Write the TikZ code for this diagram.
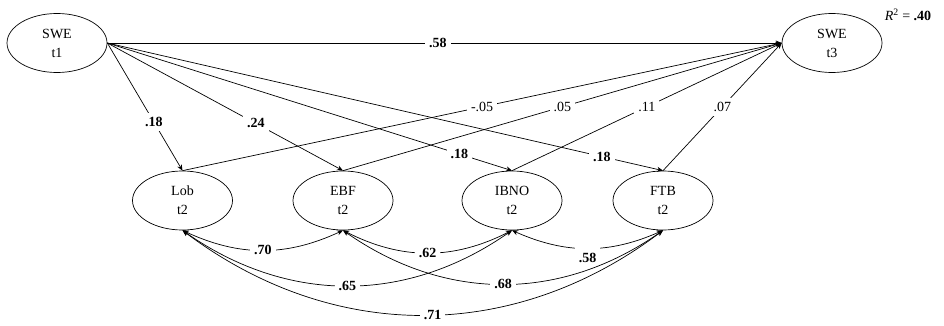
\documentclass[tikz,border=0pt]{standalone}
\usepackage{fontspec}
\setmainfont{Liberation Serif}
\usetikzlibrary{shapes.geometric,arrows.meta}

\begin{document}
\begin{tikzpicture}[x=1pt, y=1pt,
        latent/.style={draw, ellipse, line width=0.7pt, minimum width=100pt,
                       minimum height=59pt, inner sep=0pt, align=center,
                       font=\fontsize{14}{19}\selectfont},
        regpath/.style={line width=0.7pt, -{Stealth[length=6pt, width=5pt]}},
        covpath/.style={line width=0.7pt,
                        {Stealth[length=6pt, width=5pt]}-{Stealth[length=6pt, width=5pt]}},
        coef/.style={fill=white, inner sep=4pt, font=\fontsize{14}{16}\selectfont\bfseries},
        coefplain/.style={fill=white, inner sep=4pt, font=\fontsize{14}{16}\selectfont}]

    \useasboundingbox (0, 0) rectangle (944, 325);

    % latent variables
    \node[latent] (swe1) at (57, 282) {SWE\\t1};
    \node[latent] (swe3) at (832, 282) {SWE\\t3};
    \node[latent] (lob)  at (182.5, 124.5) {Lob\\t2};
    \node[latent] (ebf)  at (343, 124.5) {EBF\\t2};
    \node[latent] (ibno) at (512, 124.5) {IBNO\\t2};
    \node[latent] (ftb)  at (663, 124.5) {FTB\\t2};

    \node[font=\fontsize{14}{16}\selectfont] (rsq) at (908, 310)
        {\textit{R}\textsuperscript{2} = \textbf{.40}};

    % t1 -> t2 and t1 -> t3
    \draw[regpath] (swe1.east) -- node[coef, pos=0.49] {.58} (swe3.west);
    \draw[regpath] (swe1.east) -- node[coef, pos=0.62] {.18} (lob.north);
    \draw[regpath] (swe1.east) -- node[coef, pos=0.63] {.24} (ebf.north);
    \draw[regpath] (swe1.east) -- node[coef, pos=0.87] {.18} (ibno.north);
    \draw[regpath] (swe1.east) -- node[coef, pos=0.89] {.18} (ftb.north);

    % t2 -> t3
    \draw[regpath] (lob.north)  -- node[coefplain, pos=0.5] {-.05} (swe3.west);
    \draw[regpath] (ebf.north)  -- node[coefplain, pos=0.5] {.05} (swe3.west);
    \draw[regpath] (ibno.north) -- node[coefplain, pos=0.5] {.11} (swe3.west);
    \draw[regpath] (ftb.north)  -- node[coefplain, pos=0.5] {.07} (swe3.west);

    % covariances at t2
    \draw[covpath] (ibno.south) to[bend right=24]
        node[coef, minimum height=24pt, yshift=-10pt] {.58} (ftb.south);
    \draw[covpath] (lob.south)  to[bend right=25] node[coef] {.70} (ebf.south);
    \draw[covpath] (ebf.south)  to[bend right=27] node[coef] {.62} (ibno.south);
    \draw[covpath] (lob.south)  to[bend right=35] node[coef] {.65} (ibno.south);
    \draw[covpath] (ebf.south)  to[bend right=35] node[coef] {.68} (ftb.south);
    \draw[covpath] (lob.south)  to[bend right=37] node[coef, pos=0.52] {.71} (ftb.south);
\end{tikzpicture}
\end{document}
